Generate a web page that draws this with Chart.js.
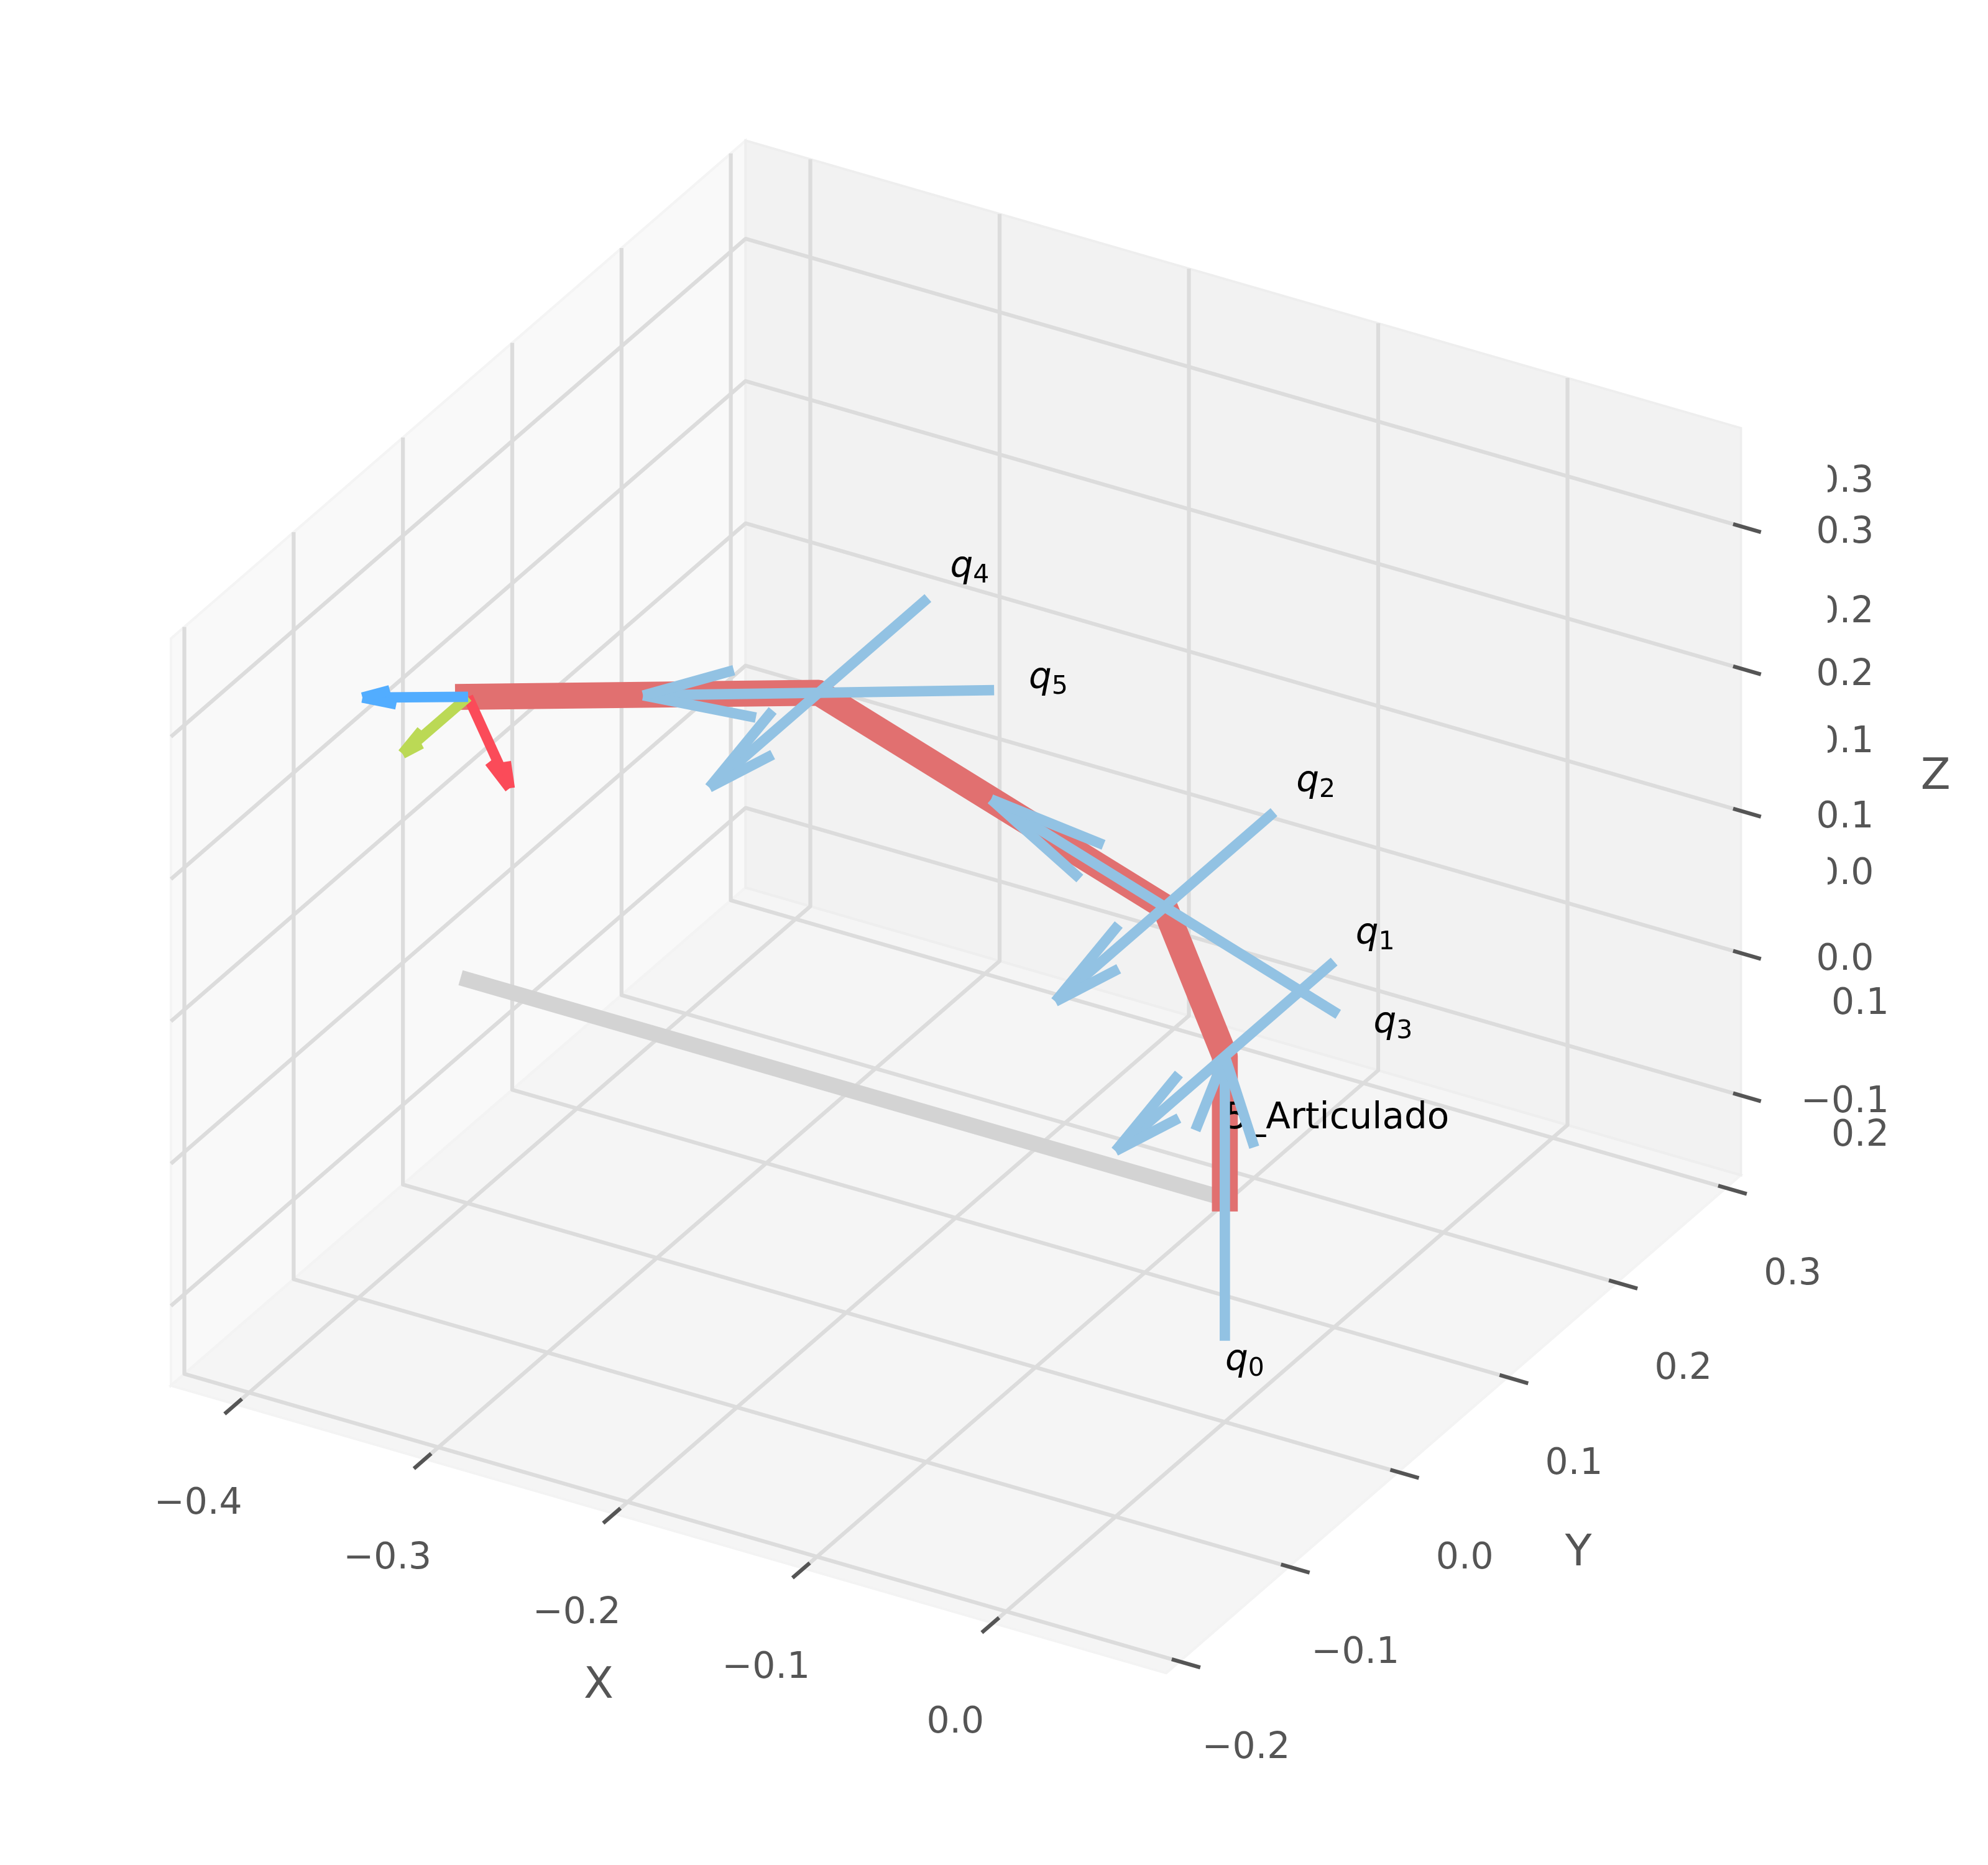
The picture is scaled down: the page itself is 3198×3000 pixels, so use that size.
<!DOCTYPE html>
<html>
<head>
<meta charset="utf-8">
<title>Robot 5_Articulado</title>
<style>
  html, body { margin: 0; background: #fff; }
  canvas { display: block; }
</style>
</head>
<body>
<canvas id="robot" width="3198" height="3000"></canvas>
<script src="https://cdn.jsdelivr.net/npm/chart.js@4"></script>
<script>
// axis limits and ticks
const xLim = [-0.4342, 0.0916];
const yLim = [-0.2123, 0.3135];
const zLim = [-0.156, 0.369];
const xTicks = [-0.4, -0.3, -0.2, -0.1, 0.0];
const yTicks = [-0.2, -0.1, 0.0, 0.1, 0.2, 0.3];
const zTicks = [-0.1, 0.0, 0.1, 0.2, 0.3];
const xTickLabels = ['−0.4', '−0.3', '−0.2', '−0.1', '0.0'];
const yTickLabels = ['−0.2', '−0.1', '0.0', '0.1', '0.2', '0.3'];
const zTickLabels = ['−0.1', '0.0', '0.1', '0.2', '0.3'];
// the second, partly cut off row of z labels
const ghostLabels = ['0.3', '0.2', '0.1', '0.0', '−0.1', '−0.2'];
const ghostHeights = [0.352, 0.2603, 0.169, 0.0762, -0.0151, -0.1077];

// the arm: base, joints and tool, all in the plane y = 0
const armX = [0, 0, -0.0318, -0.2146, -0.3998];
const armY = [0, 0, 0, 0, 0];
const armZ = [0.001, 0.101, 0.1938, 0.274, 0.2];

// joint axes q0..q5: centre and unit direction
const jointX = [0, 0, -0.0318, -0.0318, -0.2146, -0.2146];
const jointY = [0, 0, 0, 0, 0, 0];
const jointZ = [0.001, 0.101, 0.1938, 0.1938, 0.274, 0.274];
const axisU = [0, 0, 0, -0.917, 0, -0.927];
const axisV = [0, -1, -1, 0, -1, 0];
const axisW = [1, 0, 0, 0.403, 0, -0.375];
const axisHalf = 0.1;

// q labels, anchored in 3D
const qLabelX = [0.0002, 0.0691, 0.0377, 0.0785, -0.1451, -0.1036];
const qLabelZ = [-0.1194, 0.2065, 0.3017, 0.1476, 0.3823, 0.3197];

// tool frame vectors
const frameU = [0.022, 0, -0.0558];
const frameV = [0, -0.06, 0];
const frameW = [-0.0558, 0, -0.022];
const frameColors = ['#fb4b59', '#bbd955', '#52adff'];

const PT = 300 / 72;
const FONT = '"DejaVu Sans"';
const GREY = '#555555';

// orthographic view, elev 30, azim -60, box aspect 4:4:3
function project(x, y, z) {
    const a = (x - xLim[0]) / (xLim[1] - xLim[0]) - 0.5;
    const b = (y - yLim[0]) / (yLim[1] - yLim[0]) - 0.5;
    const c = (z - zLim[0]) / (zLim[1] - zLim[0]) - 0.5;
    return {
        x: 1.03097 * a + 0.59525 * b,
        y: -0.29762 * a + 0.51549 * b + 0.77325 * c
    };
}

const datasets = [];

function addLine(points, color, width, cap = 'butt') {
    datasets.push({
        data: points.map(p => project(p[0], p[1], p[2])),
        showLine: true,
        borderColor: color,
        borderWidth: width,
        borderCapStyle: cap,
        borderJoinStyle: 'round',
        pointRadius: 0,
        tension: 0,
        order: -datasets.length
    });
}

// quiver like arrow: shaft plus two barbs turned 15 degrees
function addArrow(tail, vec, color) {
    const tip = [tail[0] + vec[0], tail[1] + vec[1], tail[2] + vec[2]];
    const flat = Math.hypot(vec[0], vec[1]);
    const k = flat > 1e-9 ? [vec[1] / flat, -vec[0] / flat, 0] : [0, 1, 0];
    const cross = [
        k[1] * vec[2] - k[2] * vec[1],
        k[2] * vec[0] - k[0] * vec[2],
        k[0] * vec[1] - k[1] * vec[0]
    ];
    const cos = Math.cos(Math.PI / 12);
    const sin = Math.sin(Math.PI / 12);
    addLine([tail, tip], color, 4 * PT);
    [1, -1].forEach(sign => {
        const barb = [0, 1, 2].map(i => tip[i] - 0.3 * (vec[i] * cos + sign * cross[i] * sin));
        addLine([tip, barb], color, 4 * PT);
    });
}

// grid, with the dark tick marks running on past the panes
const gridColor = '#dcdcdc';
const gridWidth = 1.5 * PT;
const xTickRange = [-0.2066, -0.2224];
const yTickRange = [0.0874, 0.1025];
const zTickRange = [0.0875, 0.1022];

xTicks.forEach(x => addLine([[x, xTickRange[0], zLim[0]], [x, yLim[1], zLim[0]], [x, yLim[1], zLim[1]]], gridColor, gridWidth));
yTicks.forEach(y => addLine([[yTickRange[0], y, zLim[0]], [xLim[0], y, zLim[0]], [xLim[0], y, zLim[1]]], gridColor, gridWidth));
zTicks.forEach(z => addLine([[xLim[0], yLim[0], z], [xLim[0], yLim[1], z], [zTickRange[0], yLim[1], z]], gridColor, gridWidth));

xTicks.forEach(x => addLine([[x, xTickRange[0], zLim[0]], [x, xTickRange[1], zLim[0]]], GREY, gridWidth));
yTicks.forEach(y => addLine([[yTickRange[0], y, zLim[0]], [yTickRange[1], y, zLim[0]]], GREY, gridWidth));
zTicks.forEach(z => addLine([[zTickRange[0], yLim[1], z], [zTickRange[1], yLim[1], z]], GREY, gridWidth));

// shadow of the arm, then the arm
addLine([[armX[0], 0, armZ[0]], [armX[4], 0, armZ[0]]], '#d3d3d3', 6 * PT, 'square');
const armIndex = datasets.length;
addLine(armX.map((x, i) => [x, armY[i], armZ[i]]), '#e17070', 10 * PT, 'square');

// joint axes
jointX.forEach((x, i) => {
    const tail = [x - axisHalf * axisU[i], jointY[i] - axisHalf * axisV[i], jointZ[i] - axisHalf * axisW[i]];
    const vec = [2 * axisHalf * axisU[i], 2 * axisHalf * axisV[i], 2 * axisHalf * axisW[i]];
    addArrow(tail, vec, '#92c2e3');
});

// tool frame
const toolTail = [armX[4], armY[4], armZ[4]];
frameU.forEach((u, i) => addArrow(toolTail, [u, frameV[i], frameW[i]], frameColors[i]));

function pixel(chart, x, y, z) {
    const p = project(x, y, z);
    return [chart.scales.x.getPixelForValue(p.x), chart.scales.y.getPixelForValue(p.y)];
}

function putText(ctx, chart, text, p, font, color, align, baseline) {
    const at = pixel(chart, p[0], p[1], p[2]);
    ctx.font = font;
    ctx.fillStyle = color;
    ctx.textAlign = align;
    ctx.textBaseline = baseline;
    ctx.fillText(text, at[0], at[1]);
    return at;
}

const panes = {
    id: 'panes',
    beforeDatasetsDraw(chart) {
        const ctx = chart.ctx;
        const [x0, x1] = xLim, [y0, y1] = yLim, [z0, z1] = zLim;
        const faces = [
            { fill: '#f9f9f9', edge: '#f4f4f4', pts: [[x0, y0, z0], [x0, y1, z0], [x0, y1, z1], [x0, y0, z1]] },
            { fill: '#f5f5f5', edge: '#f3f3f3', pts: [[x0, y0, z0], [x1, y0, z0], [x1, y1, z0], [x0, y1, z0]] },
            { fill: '#f2f2f2', edge: '#eeeeee', pts: [[x0, y1, z0], [x1, y1, z0], [x1, y1, z1], [x0, y1, z1]] }
        ];
        ctx.save();
        faces.forEach(face => {
            ctx.beginPath();
            face.pts.forEach((p, i) => {
                const at = pixel(chart, p[0], p[1], p[2]);
                if (i === 0) ctx.moveTo(at[0], at[1]);
                else ctx.lineTo(at[0], at[1]);
            });
            ctx.closePath();
            ctx.fillStyle = face.fill;
            ctx.fill();
            ctx.strokeStyle = face.edge;
            ctx.lineWidth = 4;
            ctx.stroke();
        });
        ctx.restore();
    }
};

const texts = {
    id: 'texts',
    // the robot's name sits above the red arm but under the blue axes
    afterDatasetDraw(chart, args) {
        if (args.index !== armIndex) return;
        const ctx = chart.ctx;
        ctx.save();
        putText(ctx, chart, '5_Articulado', [0, 0, 0.0505], '58px ' + FONT, '#000', 'left', 'alphabetic');
        ctx.restore();
    },
    afterDatasetsDraw(chart) {
        const ctx = chart.ctx;
        const tickFont = 14 * PT + 'px ' + FONT;
        const labelFont = '70px ' + FONT;
        ctx.save();

        xTicks.forEach((x, i) => putText(ctx, chart, xTickLabels[i], [x, -0.2466, -0.2034], tickFont, GREY, 'center', 'middle'));
        yTicks.forEach((y, i) => putText(ctx, chart, yTickLabels[i], [0.1267, y, -0.2037], tickFont, GREY, 'center', 'middle'));
        zTicks.forEach((z, i) => putText(ctx, chart, zTickLabels[i], [0.1466, yLim[1], z + 0.016], tickFont, GREY, 'center', 'middle'));

        // these labels are cut by a vertical edge on their left
        ctx.save();
        ctx.beginPath();
        ctx.rect(2940, 0, 258, 3000);
        ctx.clip();
        ghostLabels.forEach((t, i) => putText(ctx, chart, t, [0.1466, yLim[1], ghostHeights[i]], tickFont, GREY, 'center', 'middle'));
        ctx.restore();

        putText(ctx, chart, 'X', [-0.171, -0.2768, -0.2235], labelFont, GREY, 'center', 'middle');
        putText(ctx, chart, 'Y', [0.1573, 0.051, -0.2223], labelFont, GREY, 'center', 'middle');
        putText(ctx, chart, 'Z', [0.1945, yLim[1], 0.1629], labelFont, GREY, 'center', 'middle');

        qLabelX.forEach((x, i) => {
            const at = putText(ctx, chart, 'q', [x, 0, qLabelZ[i]], 'italic 58px ' + FONT, '#000', 'left', 'alphabetic');
            const w = ctx.measureText('q').width;
            ctx.font = '41px ' + FONT;
            ctx.fillText(String(i), at[0] + w, at[1] + 9);
        });
        ctx.restore();
    }
};

new Chart(document.getElementById('robot'), {
    type: 'scatter',
    data: { datasets },
    options: {
        responsive: false,
        animation: false,
        devicePixelRatio: 1,
        layout: { padding: 0 },
        plugins: { legend: { display: false }, tooltip: { enabled: false } },
        scales: {
            x: { type: 'linear', display: false, min: -0.99015, max: 1.06909 },
            y: { type: 'linear', display: false, min: -0.9918, max: 0.9387 }
        }
    },
    plugins: [panes, texts]
});
</script>
</body>
</html>
